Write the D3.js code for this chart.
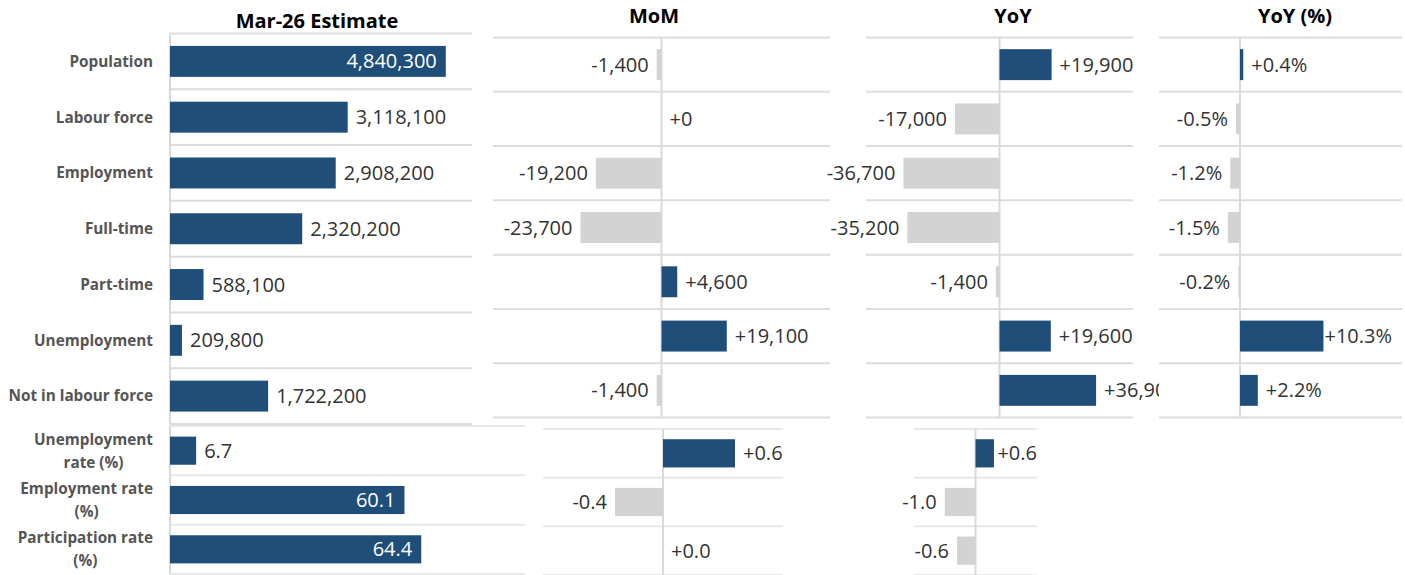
<!DOCTYPE html>
<html lang="en">
<head>
    <meta charset="UTF-8">
    <script src="https://cdn.jsdelivr.net/npm/d3@7"></script>
    <title>Labour force estimate</title>
    <style>
        body {
            margin: 0;
            background: #fff;
            font-family: "Open Sans", sans-serif;
        }
        .title {
            font-size: 20px;
            font-weight: bold;
            fill: #000;
        }
        .row-label {
            font-size: 15.3px;
            font-weight: bold;
            fill: #555;
        }
        .value {
            font-size: 20px;
            fill: #333;
        }
    </style>
</head>
<body>
    <svg id="chart" width="1405" height="575"></svg>
    <script>
        /*------------------------ data ------------------------*/
        const rowsTop = ["Population", "Labour force", "Employment", "Full-time",
            "Part-time", "Unemployment", "Not in labour force"];
        const rowsBottom = [["Unemployment", "rate (%)"], ["Employment rate", "(%)"],
            ["Participation rate", "(%)"]];

        const estimateTop = [4840300, 3118100, 2908200, 2320200, 588100, 209800, 1722200];
        const estimateBottom = [6.7, 60.1, 64.4];
        const momTop = [-1400, 0, -19200, -23700, 4600, 19100, -1400];
        const momBottom = [0.6, -0.4, 0.0];
        const yoyTop = [19900, -17000, -36700, -35200, -1400, 19600, 36900];
        const yoyBottom = [0.6, -1.0, -0.6];
        const yoyPctTop = [0.4, -0.5, -1.2, -1.5, -0.2, 10.3, 2.2];

        const titles = ["Mar-26 Estimate", "MoM", "YoY", "YoY (%)"];

        /*------------------------ setup ------------------------*/
        const svg = d3.select("#chart");
        const blue = "#1f4e79";
        const grey = "#d3d3d3";

        // hyphen instead of the unicode minus
        const fmt = d3.formatLocale({
            decimal: ".", thousands: ",", grouping: [3], currency: ["", ""], minus: "-"
        }).format;

        const panels = [
            { values: estimateTop, labels: rowsTop, x: [170, 472], domain: [0, 5300000],
              y: [33.5, 424], pad: 0.445, fmt: fmt(","), inside: 0.62, grid: "#dcdcdc" },
            { values: estimateBottom, labels: rowsBottom, x: [170, 525], domain: [0, 91],
              y: [426, 574], pad: 0.43, fmt: fmt(".1f"), inside: 0.62, grid: "#e8e8e8" },
            { values: momTop, x: [493, 830], domain: [-49300, 49300],
              y: [37.5, 417.5], pad: 0.43, fmt: fmt("+,"), grid: "#dcdcdc" },
            { values: momBottom, x: [543, 783], domain: [-1, 1],
              y: [429, 575], pad: 0.42, fmt: fmt("+.1f"), grid: "#e8e8e8" },
            { values: yoyTop, x: [866, 1133], domain: [-51000, 51000],
              y: [37.5, 417.5], pad: 0.43, fmt: fmt("+,"), clipRight: 1159, grid: "#dcdcdc" },
            { values: yoyBottom, x: [914, 1037], domain: [-2, 2],
              y: [429, 575], pad: 0.42, fmt: fmt("+.1f"), fitPad: 0, grid: "#e8e8e8" },
            { values: yoyPctTop, x: [1159, 1402], domain: [-10, 20],
              y: [37.5, 417.5], pad: 0.43, fmt: v => fmt("+.1f")(v) + "%", fitPad: 10, grid: "#dcdcdc" }
        ];

        /*------------------------ titles ------------------------*/
        const titlePos = [[317, 28], [654, 23], [1013, 23], [1295, 23]];
        svg.selectAll(".title")
            .data(titles)
            .enter()
            .append("text")
            .attr("class", "title")
            .attr("x", (d, i) => titlePos[i][0])
            .attr("y", (d, i) => titlePos[i][1])
            .attr("text-anchor", "middle")
            .text(d => d);

        /*------------------------ panels ------------------------*/
        panels.forEach((p, pi) => {
            const n = p.values.length;
            const x = d3.scaleLinear().domain(p.domain).range(p.x);
            const y = d3.scaleBand()
                .domain(d3.range(n))
                .range(p.y)
                .paddingInner(p.pad)
                .paddingOuter(p.pad / 2);
            const step = y.step();

            const g = svg.append("g");
            if (p.clipRight) {
                svg.append("clipPath").attr("id", "clip" + pi)
                    .append("rect")
                    .attr("x", p.x[0] - 200).attr("y", p.y[0] - 5)
                    .attr("width", p.clipRight - p.x[0] + 200).attr("height", p.y[1] - p.y[0] + 10);
                g.attr("clip-path", `url(#clip${pi})`);
            }

            // row grid lines
            g.selectAll(".grid")
                .data(d3.range(n + 1))
                .enter()
                .append("line")
                .attr("x1", p.x[0]).attr("x2", p.x[1])
                .attr("y1", i => p.y[0] + i * step)
                .attr("y2", i => p.y[0] + i * step)
                .attr("stroke", p.grid)
                .attr("stroke-width", 2);

            // zero line
            g.append("line")
                .attr("x1", x(0)).attr("x2", x(0))
                .attr("y1", p.y[0]).attr("y2", p.y[1])
                .attr("stroke", "#d9d9d9")
                .attr("stroke-width", 2);

            // bars
            g.selectAll(".bar")
                .data(p.values)
                .enter()
                .append("rect")
                .attr("x", d => Math.min(x(0), x(d)))
                .attr("y", (d, i) => y(i))
                .attr("width", d => Math.abs(x(d) - x(0)))
                .attr("height", y.bandwidth())
                .attr("fill", d => d < 0 ? grey : blue);

            // value labels
            const labels = g.selectAll(".value")
                .data(p.values)
                .enter()
                .append("text")
                .attr("class", "value")
                .attr("y", (d, i) => y(i) + y.bandwidth() / 2)
                .attr("dy", "0.35em")
                .text(d => p.fmt(d));

            labels.each(function (d) {
                const t = d3.select(this);
                const w = this.getComputedTextLength();
                const end = x(d);
                if (p.inside && d / p.domain[1] > p.inside) {
                    t.attr("x", end - 9).attr("text-anchor", "end").style("fill", "#fff");
                } else if (d < 0) {
                    t.attr("x", end - 8).attr("text-anchor", "end");
                } else {
                    let lx = end + 8;
                    if (p.fitPad !== undefined && lx + w > p.x[1] - p.fitPad) {
                        lx = Math.max(end + 1, p.x[1] - p.fitPad - w);
                    }
                    t.attr("x", lx).attr("text-anchor", "start");
                }
            });

            // row labels on the left
            if (p.labels) {
                p.labels.forEach((lab, i) => {
                    const cy = y(i) + y.bandwidth() / 2;
                    if (typeof lab === "string") {
                        svg.append("text")
                            .attr("class", "row-label")
                            .attr("x", 153).attr("y", cy).attr("dy", "0.35em")
                            .attr("text-anchor", "end")
                            .text(lab);
                    } else {
                        const t = svg.append("text")
                            .attr("class", "row-label")
                            .attr("text-anchor", "middle");
                        lab.forEach((line, j) => {
                            t.append("tspan")
                                .attr("y", cy + (j === 0 ? -6 : 17))
                                .text(line);
                        });
                        const wMax = d3.max(t.selectAll("tspan").nodes(), s => s.getComputedTextLength());
                        t.selectAll("tspan").attr("x", 153 - wMax / 2);
                    }
                });
            }
        });
    </script>
</body>
</html>
